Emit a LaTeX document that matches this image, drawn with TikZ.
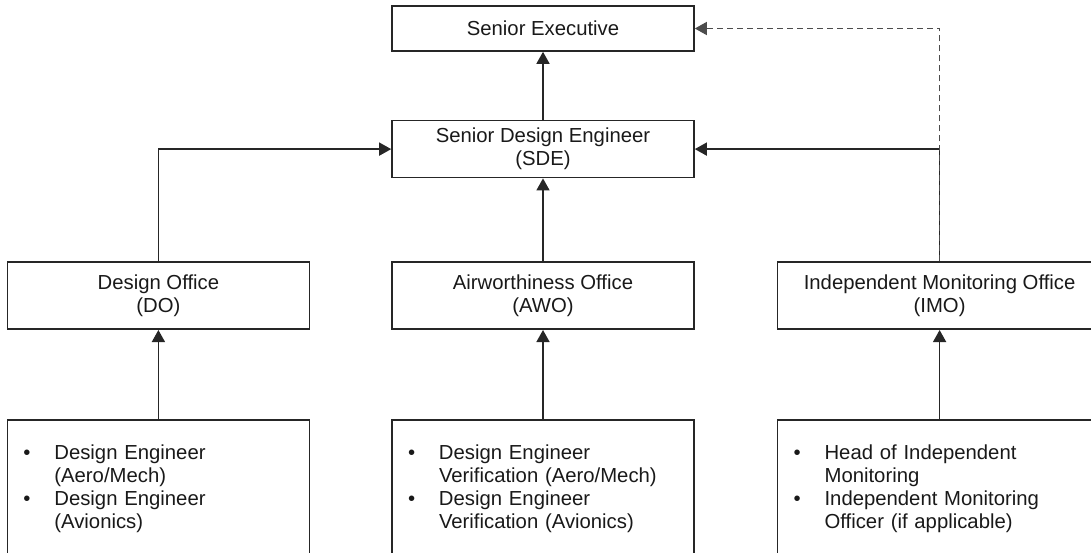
\documentclass[tikz,border=0pt]{standalone}
\usepackage{fontspec}
\setmainfont{Liberation Sans}
\usepackage{tikz}
\usetikzlibrary{arrows.meta,positioning}

\begin{document}
\begin{tikzpicture}[x=1pt, y=-1pt, >={Triangle[width=13pt,length=12pt]}, line width=1.5pt]
    \tikzset{
        box/.style={draw=black!85, line width=1.6pt, rectangle, minimum width=302pt, align=center, inner sep=0pt, text=black!90, font=\fontsize{20.3}{23}\selectfont},
        office/.style={box, minimum height=67pt},
        staff/.style={box, minimum height=139pt, text width=270pt, inner xsep=16pt, align=left},
        line/.style={draw=black!85, ->},
        advisory/.style={draw=black!70, ->, dash pattern=on 6pt off 4pt}
    }
    \newcommand{\bul}{\textbullet}
    \useasboundingbox (0,0) rectangle (1091,552);
    \clip (0,0) rectangle (1091,552);

    \node [box, minimum height=45pt] (se) at (543,28.5) {Senior Executive};
    \node [box, minimum height=57pt, below=68pt of se] (sde) {Senior Design Engineer\\(SDE)};

    \node [office, below=83pt of sde] (awo) {Airworthiness Office\\(AWO)};
    \node [office, left=81pt of awo] (do) {Design Office\\(DO)};
    \node [office, right=82pt of awo, minimum width=324pt] (imo) {Independent Monitoring Office\\(IMO)};

    \node [staff, below=89pt of do] (dostaff) {%
        \begin{tabular}{@{}p{31pt}@{}l@{}}
        \bul & Design Engineer\\ & (Aero/Mech)\\
        \bul & Design Engineer\\ & (Avionics)
        \end{tabular}};
    \node [staff, below=89pt of awo] (awostaff) {%
        \begin{tabular}{@{}p{31pt}@{}l@{}}
        \bul & Design Engineer\\ & Verification (Aero/Mech)\\
        \bul & Design Engineer\\ & Verification (Avionics)
        \end{tabular}};
    \node [staff, below=89pt of imo, text width=292pt] (imostaff) {%
        \begin{tabular}{@{}p{31pt}@{}l@{}}
        \bul & Head of Independent\\ & Monitoring\\
        \bul & Independent Monitoring\\ & Officer (if applicable)
        \end{tabular}};

    % reporting lines
    \path [line] (sde) -- (se);
    \path [line] (do.north) |- (sde.west);
    \path [line] (awo) -- (sde);
    \path [line] (imo.north) |- (sde.east);
    \path [line] (dostaff) -- (do);
    \path [line] (awostaff) -- (awo);
    \path [line] (imostaff) -- (imo);

    % independent line to the top
    \path [advisory] (imo.north) |- (se.east);
\end{tikzpicture}
\end{document}
